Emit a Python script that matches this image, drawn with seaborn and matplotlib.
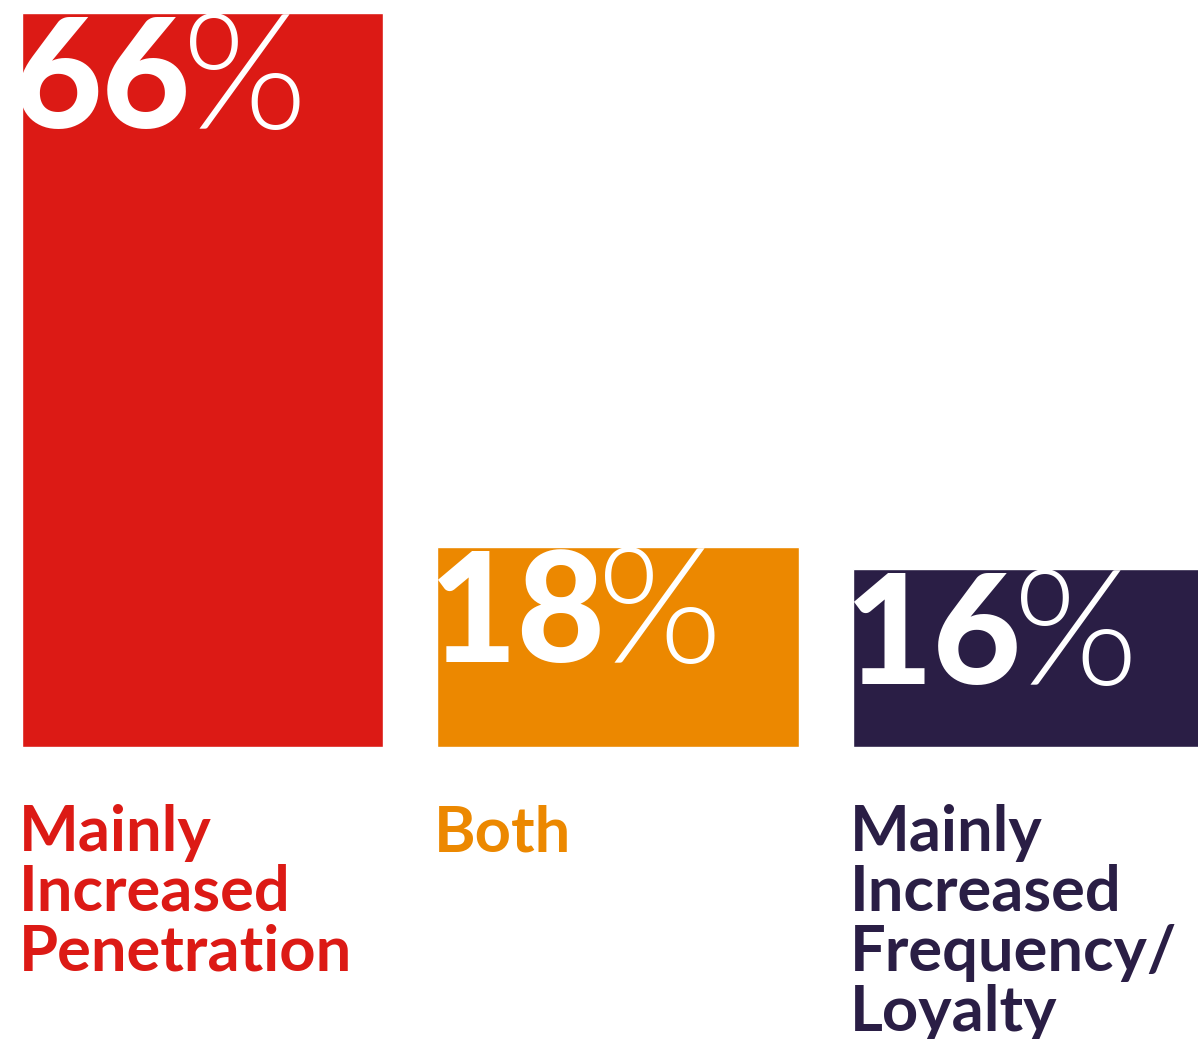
import matplotlib
matplotlib.use("Agg")
import matplotlib.pyplot as plt
import seaborn as sns
import pandas as pd
from matplotlib.transforms import blended_transform_factory

categories = ["Mainly\nIncreased\nPenetration", "Both", "Mainly\nIncreased\nFrequency/\nLoyalty"]
values = [66, 18, 16]
colors = ["#DC1A15", "#EC8800", "#2A1E45"]

sns.set_theme(style="white")
plt.rcParams["font.family"] = ["Lato", "DejaVu Sans"]

df = pd.DataFrame({"cat": categories, "val": values})

W, H = 1198, 1039
fig = plt.figure(figsize=(W / 100, H / 100), dpi=100)
ax = fig.add_axes([22 / W, 1 - 747 / H, 1176 / W, 734 / H])

bw = 361 / 415
sns.barplot(data=df, x="cat", y="val", hue="cat", palette=colors, dodge=False,
            width=bw, legend=False, ax=ax, saturation=1)
ax.set_xlim(-bw / 2, 2 + (1198 - 853) / 415 - bw / 2)
ax.set_ylim(0, 66)
ax.axis("off")

label_tr = blended_transform_factory(ax.transData, fig.transFigure)
bars = ax.patches
for i, (bar, v, c, cat) in enumerate(zip(bars, values, colors, categories)):
    x0 = bar.get_x()
    num = ax.annotate(f"{v}", xy=(x0, v), xycoords="data",
                      xytext=(-9, -115), textcoords="offset pixels",
                      ha="left", va="baseline", fontsize=110, fontweight="black",
                      color="white", annotation_clip=False)
    num.set_clip_path(bar)
    pct = ax.annotate("%", xy=(1.0, v), xycoords=(num, "data"),
                      xytext=(-8, -116), textcoords="offset pixels",
                      ha="left", va="baseline", fontsize=116, fontweight=300,
                      color="white", annotation_clip=False)
    pct.set_clip_path(bar)
    ax.text(x0 - 3 / 415, 1 - 804 / H, cat, transform=label_tr, ha="left", va="top",
            fontsize=45.5, fontweight="bold", color=c, linespacing=1.04)

fig.savefig("out.png", dpi=100)
